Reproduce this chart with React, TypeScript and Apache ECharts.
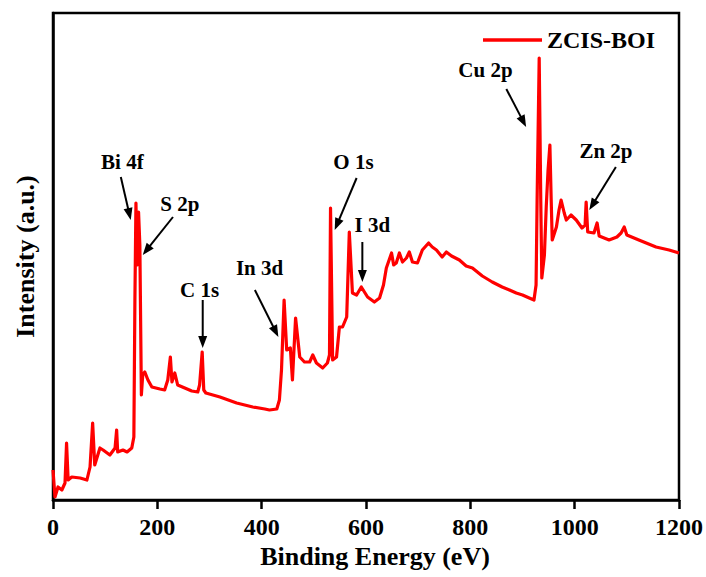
import React, { useEffect, useRef } from "react";
import * as echarts from "echarts";

// Binding energy (eV) and intensity (a.u.)
const energies = [
  0, 3.8, 9.6, 17, 23, 26, 29, 36, 52, 65, 71, 76, 80, 90, 96, 109, 119, 122, 124, 134, 142, 151, 155,
  157, 159, 161.3, 164, 166.5, 169.4, 172, 176, 182, 189.5, 205, 214, 220, 225, 228, 233.5, 239, 252.6,
  266, 277.5, 281, 286, 289, 293, 320, 352, 383, 406, 415, 429, 434, 438, 443, 448, 455, 459, 465, 473,
  482, 492, 498, 505, 517, 526, 530, 532, 536, 543.5, 549, 555, 563, 568, 574, 582, 591, 603, 616, 626,
  633.5, 639, 649, 653, 658, 664, 670, 677.5, 683, 689, 698.6, 708, 720, 727, 735, 746, 754, 764, 779,
  792, 804, 823, 842, 861, 875, 888, 900, 913, 922, 926, 928, 932, 935, 937, 942, 945.5, 949, 952.5,
  955, 957, 965, 970, 974, 980, 984, 993, 1003, 1014, 1020, 1022, 1025, 1037, 1043, 1047, 1066, 1081,
  1089, 1095, 1100, 1123, 1156, 1181, 1200,
];
const intensities = [
  30, 3, 13, 10, 17, 57, 20, 23, 22, 20, 33, 77, 35, 52, 50, 45, 52, 70, 48, 50, 48, 52, 63,
  200, 297, 235, 288, 255, 105, 125, 128, 120, 113, 111, 110, 120, 143, 118, 127, 115, 112,
  109, 108, 115, 148, 110, 107, 103, 97, 93, 91, 90, 91, 100, 130, 200, 150, 152, 120, 182, 143,
  138, 138, 145, 137, 132, 137, 145, 292, 140, 143, 173, 173, 183, 268, 207, 205, 213, 203, 198, 202,
  215, 232, 247, 235, 237, 247, 238, 242, 248, 238, 237, 250, 257, 253, 250, 243, 248, 244, 240,
  234, 232, 224, 218, 213, 210, 207, 205, 202, 200, 215, 300, 442, 300, 222, 245, 293, 330, 355,
  300, 260, 273, 290, 300, 287, 280, 285, 280, 272, 275, 298, 268, 267, 277, 264, 260, 263,
  267, 273, 265, 260, 253, 250, 247,
];
const xTicks = [0, 200, 400, 600, 800, 1000, 1200];
const seriesName = "ZCIS-BOI";

// Peak annotations: label text, label anchor, arrow start, arrow end (data coordinates)
const annLabels = ["Bi 4f", "S 2p", "C 1s", "In 3d", "O 1s", "I 3d", "Cu 2p", "Zn 2p"];
const annText = [
  [133, 338], [243, 296], [281, 210], [396, 232], [576, 338], [612, 275], [829, 430], [1060, 349],
];
const annFrom = [
  [130, 323], [230, 283], [287, 200], [387, 210], [582, 322], [593, 258], [869, 411], [1079, 333],
];
const annTo = [
  [149, 280], [172, 245], [287, 152], [432, 163], [540, 270], [593, 218], [907, 373], [1028, 290],
];

const FONT = "'Liberation Serif', 'Times New Roman', serif";

export default function App() {
  const ref = useRef<HTMLDivElement>(null);
  useEffect(() => {
    if (!ref.current) return;
    const chart = echarts.init(ref.current, undefined, { renderer: "svg" });
    const data = energies.map((e, i) => [e, intensities[i]]);
    chart.setOption({
      animation: false,
      backgroundColor: "#fff",
      grid: {
        left: 53,
        right: 26,
        top: 13,
        bottom: 77,
        show: true,
        borderColor: "#000",
        borderWidth: 2.5,
        backgroundColor: "transparent",
      },
      legend: {
        data: [seriesName],
        left: 483,
        top: 28,
        padding: 0,
        icon: "rect",
        itemWidth: 59,
        itemHeight: 3.5,
        itemGap: 6,
        textStyle: { fontSize: 24, fontWeight: "bold", fontFamily: FONT, color: "#000" },
      },
      xAxis: {
        type: "value",
        min: 0,
        max: 1200,
        interval: 200,
        name: "Binding Energy (eV)",
        nameLocation: "middle",
        nameGap: 39,
        nameTextStyle: {
          fontSize: 26,
          fontWeight: "bold",
          fontFamily: FONT,
          color: "#000",
          padding: [0, 0, 0, 18],
        },
        axisLine: { show: true, lineStyle: { color: "#000", width: 2.5 } },
        axisTick: { show: true, length: 9, lineStyle: { color: "#000", width: 2.5 } },
        axisLabel: {
          margin: 15,
          fontSize: 24,
          fontWeight: "bold",
          fontFamily: FONT,
          color: "#000",
          formatter: (v: number) => (xTicks.includes(v) ? String(v) : ""),
        },
        splitLine: { show: false },
      },
      yAxis: {
        type: "value",
        min: 0,
        max: 487,
        name: "Intensity (a.u.)",
        nameLocation: "middle",
        nameGap: 15,
        nameTextStyle: { fontSize: 26, fontWeight: "bold", fontFamily: FONT, color: "#000" },
        axisLine: { show: true, lineStyle: { color: "#000", width: 2.5 } },
        axisTick: { show: false },
        axisLabel: { show: false },
        splitLine: { show: false },
      },
      series: [
        {
          name: seriesName,
          type: "line",
          data,
          symbol: "none",
          showSymbol: false,
          lineStyle: { color: "#ff0000", width: 3.2, join: "round" },
          itemStyle: { color: "#ff0000" },
          z: 3,
        },
      ],
    });

    const graphics: any[] = [];
    annLabels.forEach((label, i) => {
      const t = chart.convertToPixel({ gridIndex: 0 }, annText[i]) as number[];
      const a = chart.convertToPixel({ gridIndex: 0 }, annFrom[i]) as number[];
      const b = chart.convertToPixel({ gridIndex: 0 }, annTo[i]) as number[];
      graphics.push({
        type: "text",
        x: t[0],
        y: t[1],
        z: 10,
        style: {
          text: label,
          fill: "#000",
          font: `bold 21px ${FONT}`,
          align: "center",
          verticalAlign: "middle",
        },
      });
      const dx = b[0] - a[0];
      const dy = b[1] - a[1];
      const len = Math.sqrt(dx * dx + dy * dy);
      const ux = dx / len;
      const uy = dy / len;
      const head = 12;
      const hw = 4.5;
      const bx = b[0] - ux * head;
      const by = b[1] - uy * head;
      graphics.push({
        type: "line",
        z: 10,
        shape: { x1: a[0], y1: a[1], x2: bx + ux * 2, y2: by + uy * 2 },
        style: { stroke: "#000", lineWidth: 2 },
      });
      graphics.push({
        type: "polygon",
        z: 10,
        shape: {
          points: [
            [b[0], b[1]],
            [bx - uy * hw, by + ux * hw],
            [bx + uy * hw, by - ux * hw],
          ],
        },
        style: { fill: "#000" },
      });
    });
    chart.setOption({ graphic: graphics });

    return () => chart.dispose();
  }, []);
  return (
    <div
      ref={ref}
      style={{ position: "fixed", left: 0, top: 0, width: 706, height: 577, background: "#fff" }}
    />
  );
}
